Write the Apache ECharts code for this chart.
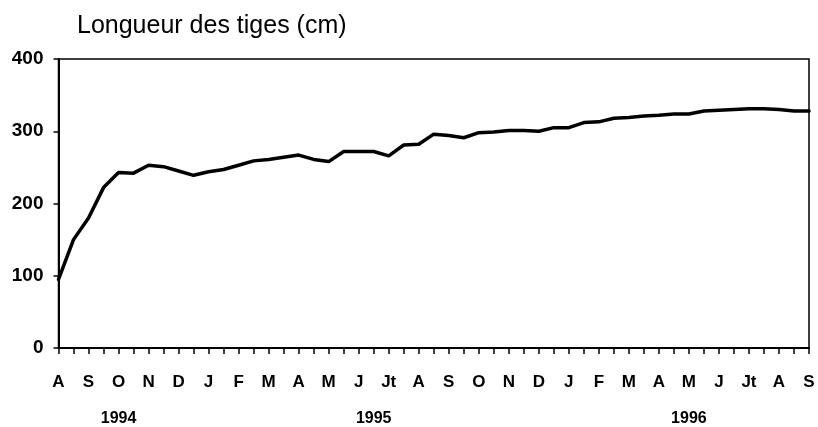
<!DOCTYPE html>
<html>
<head>
<meta charset="utf-8">
<script src="https://cdn.jsdelivr.net/npm/echarts@6/dist/echarts.min.js"></script>
<style>
html,body{margin:0;padding:0;background:#fff;}
#chart{width:818px;height:427px;}
</style>
</head>
<body>
<div id="chart"></div>
<script>
// Month tick labels (Aug 1994 -> Sep 1996), one every two half-month steps
const monthLabels = ['A','S','O','N','D','J','F','M','A','M','J','Jt','A','S','O','N','D','J','F','M','A','M','J','Jt','A','S'];
// Year labels and the half-month step under which each is centred
const yearLabels = ['1994','1995','1996'];
const yearSteps = [4, 21, 42];
// Stem length (cm), one value per half-month
const stemLength = [95,150,180,222,243,242,253,251,245,239,
                    244,247,253,259,261,264,267,261,258,272,
                    272,272,266,281,282,296,294,291,298,299,
                    301,301,300,305,305,312,313,318,319,321,
                    322,324,324,328,329,330,331,331,330,328,328];
const yTicks = [0,100,200,300,400];

const FONT = 'Liberation Sans, Arial, Helvetica, sans-serif';
const chart = echarts.init(document.getElementById('chart'), null, {renderer:'canvas'});
const seriesData = stemLength.map((v,i)=>[i,v]);
const nSteps = stemLength.length - 1;

chart.setOption({
  animation:false,
  backgroundColor:'#fff',
  title:{
    text:'Longueur des tiges (cm)',
    left:72, top:9,
    textStyle:{fontFamily:FONT,fontSize:25,fontWeight:'normal',color:'#000'}
  },
  grid:{left:58.5,right:9,top:59,bottom:79,show:true,borderColor:'#000',borderWidth:1.5,backgroundColor:'transparent'},
  xAxis:[{
    type:'value',min:0,max:nSteps,interval:1,
    axisLine:{show:true,lineStyle:{color:'#000',width:2}},
    axisTick:{show:true,inside:false,length:6,lineStyle:{color:'#000',width:1.5}},
    splitLine:{show:false},
    axisLabel:{
      margin:26,color:'#000',fontFamily:FONT,fontSize:17,fontWeight:'bold',
      formatter:function(v){return v%2===0 ? (monthLabels[v/2]||'') : '';}
    }
  },{
    type:'value',min:0,max:nSteps,interval:1,position:'bottom',offset:0,
    axisLine:{show:false},axisTick:{show:false},splitLine:{show:false},
    axisLabel:{
      margin:63,color:'#000',fontFamily:FONT,fontSize:16,fontWeight:'bold',
      formatter:function(v){const k=yearSteps.indexOf(v);return k>=0?yearLabels[k]:'';}
    }
  }],
  yAxis:{
    type:'value',min:yTicks[0],max:yTicks[yTicks.length-1],interval:100,
    axisLine:{show:true,lineStyle:{color:'#000',width:2}},
    axisTick:{show:true,inside:false,length:5,lineStyle:{color:'#000',width:1.5}},
    splitLine:{show:false},
    axisLabel:{margin:15,color:'#000',fontFamily:FONT,fontSize:19,fontWeight:'bold'}
  },
  series:[{
    type:'line',xAxisIndex:0,data:seriesData,
    showSymbol:false,symbol:'none',smooth:false,
    lineStyle:{color:'#000',width:3.5,join:'round',cap:'round'}
  }]
});
</script>
</body>
</html>
